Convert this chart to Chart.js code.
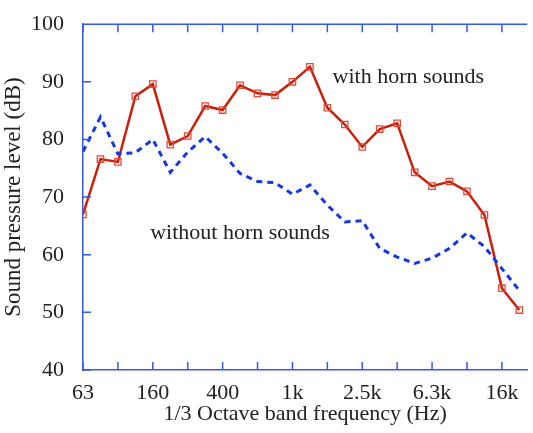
<!DOCTYPE html>
<html>
<head>
<meta charset="utf-8">
<script src="https://cdn.jsdelivr.net/npm/chart.js@4.4.0/dist/chart.umd.min.js"></script>
<style>
  html,body{margin:0;padding:0;background:#fff;}
  #wrap{width:533px;height:433px;position:relative;}
</style>
</head>
<body>
<div id="wrap"><canvas id="chart"></canvas></div>
<script>
// 1/3 octave band centres, plotted by band index
const bands = ['63','80','100','125','160','200','250','315','400','500','630','800','1k',
  '1.25k','1.6k','2k','2.5k','3.15k','4k','5k','6.3k','8k','10k','12.5k','16k','20k'];
const withHorn = [67.0,76.6,76.1,87.5,89.6,79.1,80.6,85.8,85.1,89.4,88.0,87.7,90.0,
  92.6,85.5,82.6,78.7,81.8,82.8,74.3,71.9,72.7,71.0,66.9,54.2,50.4];
const withoutHorn = [77.9,83.9,77.5,77.7,80.0,74.3,77.8,80.5,77.6,74.1,72.7,72.5,70.5,
  72.1,68.6,65.7,65.9,61.1,59.6,58.5,59.4,61.1,63.8,61.4,57.6,53.8];
const xTickIdx = [0,2,4,6,8,10,12,14,16,18,20,22,24];   // tick marks every 2 bands
const xLabelIdx = [0,4,8,12,16,20,24];                   // labelled every 4 bands
const yTicks = [40,50,60,70,80,90,100];

const axisBlue = '#3858e6';
const serif = "'Liberation Serif','DejaVu Serif',serif";

// inward ticks, top frame line and the two text labels
const framePlugin = {
  id:'frame',
  afterDraw(chart){
    const {ctx, chartArea:a, scales:{x,y}} = chart;
    ctx.save();
    ctx.strokeStyle = axisBlue; ctx.lineWidth = 1.5;
    ctx.beginPath();
    ctx.moveTo(a.left, a.top); ctx.lineTo(a.right, a.top);
    xTickIdx.forEach(i=>{
      const px = x.getPixelForValue(i);
      ctx.moveTo(px, a.bottom); ctx.lineTo(px, a.bottom-8);
      ctx.moveTo(px, a.top); ctx.lineTo(px, a.top+8);
    });
    yTicks.forEach(v=>{
      const py = y.getPixelForValue(v);
      ctx.moveTo(a.left, py); ctx.lineTo(a.left+8, py);
    });
    ctx.stroke();
    ctx.fillStyle = '#222';
    ctx.font = `22px ${serif}`;
    ctx.textBaseline = 'middle';
    ctx.fillText('with horn sounds', x.getPixelForValue(14.3), y.getPixelForValue(90.8));
    ctx.fillText('without horn sounds', x.getPixelForValue(3.85), y.getPixelForValue(63.8));
    ctx.restore();
  }
};

new Chart(document.getElementById('chart'), {
  type:'line',
  data:{
    datasets:[
      {
        label:'without horn sounds',
        data: withoutHorn.map((v,i)=>({x:i,y:v})),
        borderColor:'#1538e0', borderWidth:3, borderDash:[6,5],
        pointRadius:0, fill:false, tension:0
      },
      {
        label:'with horn sounds',
        data: withHorn.map((v,i)=>({x:i,y:v})),
        borderColor:'#c8200a', borderWidth:2.5,
        pointStyle:'rect', pointRadius:4.5, pointBorderColor:'#e04a3a', pointBorderWidth:1.3,
        pointBackgroundColor:'rgba(255,255,255,0)', fill:false, tension:0
      }
    ]
  },
  options:{
    responsive:true, maintainAspectRatio:false, animation:false,
    layout:{padding:{top:24,left:0,right:0,bottom:6}},
    plugins:{legend:{display:false}, tooltip:{enabled:false}},
    scales:{
      x:{
        type:'linear', min:0, max:25.45,
        afterBuildTicks: s=>{ s.ticks = xTickIdx.map(v=>({value:v})); },
        afterFit: s=>{ s.height = 57; },
        grid:{display:false},
        border:{display:true, color:axisBlue, width:1.5},
        ticks:{
          autoSkip:false, maxRotation:0, padding:2, color:'#222',
          font:{family:serif, size:22},
          callback: v => xLabelIdx.includes(v) ? bands[v] : ''
        },
        title:{display:true, text:'1/3 Octave band frequency (Hz)', color:'#222',
          font:{family:serif, size:22}, padding:{top:0,bottom:0}}
      },
      y:{
        min:40, max:100,
        afterBuildTicks: s=>{ s.ticks = yTicks.map(v=>({value:v})); },
        afterFit: s=>{ s.width = 83; },
        grid:{display:false},
        border:{display:true, color:axisBlue, width:1.5},
        ticks:{padding:11, color:'#222', font:{family:serif, size:22}},
        title:{display:true, text:'Sound pressure level (dB)', color:'#222',
          font:{family:serif, size:23}, padding:{top:0,bottom:0}}
      }
    }
  },
  plugins:[framePlugin]
});
</script>
</body>
</html>
